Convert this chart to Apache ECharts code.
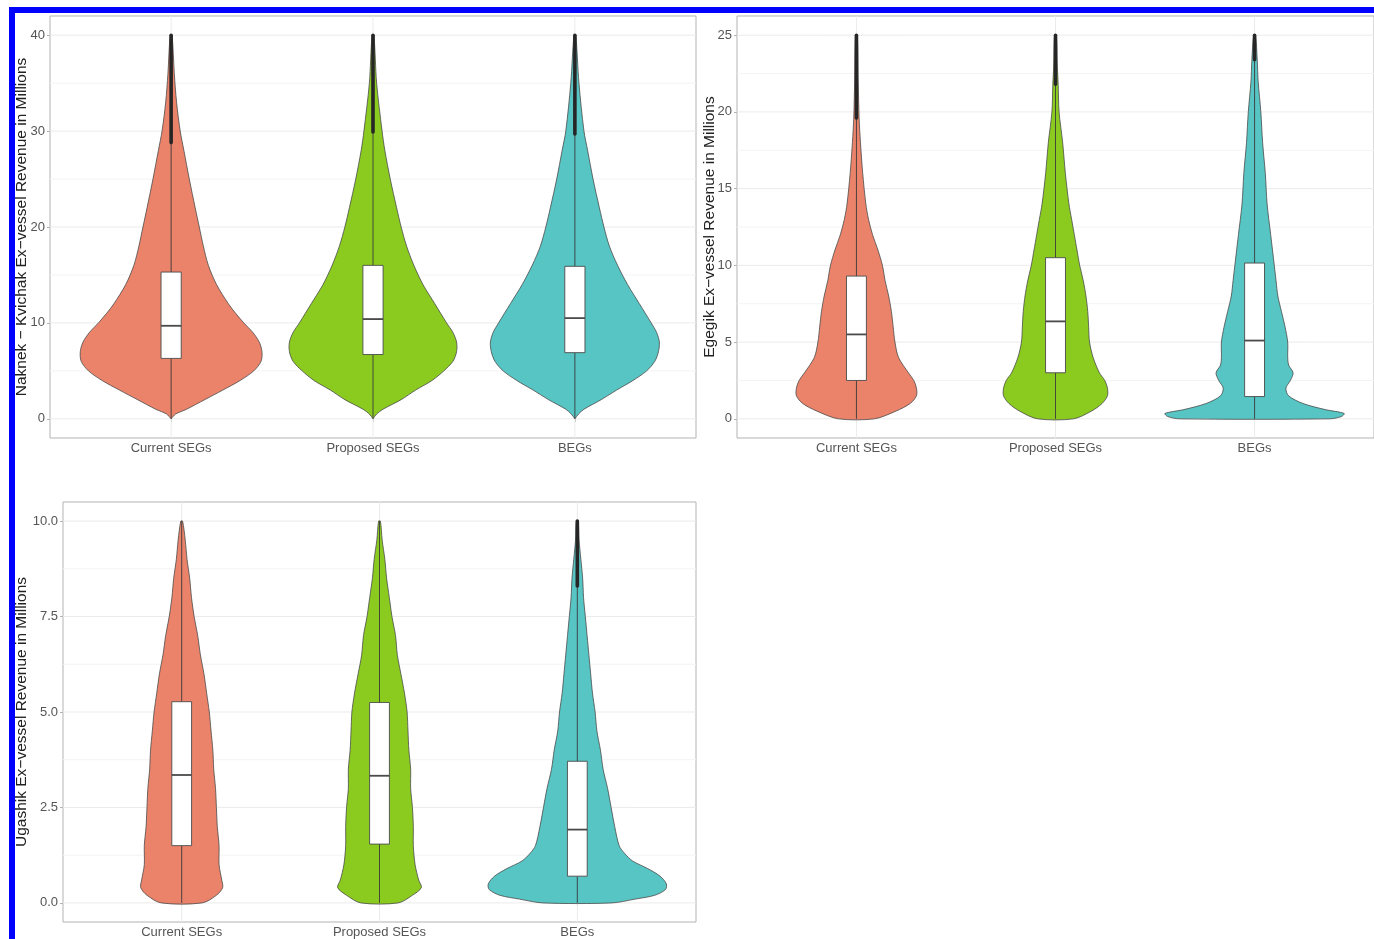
<!DOCTYPE html>
<html>
<head>
<meta charset="utf-8">
<script src="https://cdn.jsdelivr.net/npm/echarts@6/dist/echarts.min.js"></script>
<style>
  html, body { margin: 0; padding: 0; background: #ffffff; }
  #chart { width: 1374px; height: 939px; }
</style>
</head>
<body>
<div id="chart"></div>
<script>
// ---- groups shown on every panel ----
const categories = ['Current SEGs', 'Proposed SEGs', 'BEGs'];
const fillColors = ['#EB836A', '#8BCB1F', '#56C5C3'];

// ---- Naknek - Kvichak (millions) ----
const nkTicks = [0, 10, 20, 30, 40];
// violin outlines: revenue levels and scaled density (1 = widest violin on the panel)
const nkCurrentY = [0, 0.5, 1, 2, 3, 4, 5, 6, 7, 8, 9, 10, 11, 12, 14, 16, 18, 20, 22, 25, 28, 30, 33, 36, 40];
const nkCurrentW = [0, .05, .17, .37, .57, .76, .91, .99, 1, .97, .90, .80, .71, .63, .50, .41, .355, .31, .265, .20, .14, .10, .06, .035, .01];
const nkProposedY = [0, 0.5, 1, 2, 3, 4, 5, 6, 7, 8, 9, 10, 12, 14, 16, 18, 20, 22, 25, 28, 30, 35, 40];
const nkProposedW = [0, .04, .11, .31, .47, .65, .78, .88, .92, .92, .88, .81, .68, .55, .45, .37, .31, .26, .19, .13, .10, .04, .01];
const nkBegY = [0, 0.5, 1, 2, 3, 4, 5, 6, 7, 8, 9, 10, 12, 14, 16, 18, 20, 22, 25, 28, 30, 35, 40];
const nkBegW = [0, .04, .10, .29, .46, .64, .79, .88, .92, .93, .90, .84, .71, .58, .47, .38, .32, .27, .20, .14, .10, .045, .01];
// box statistics: [lower whisker, Q1, median, Q3, upper whisker, maximum]
const nkBoxes = [
  [0, 6.3, 9.7, 15.3, 28.8, 40],
  [0, 6.7, 10.4, 16.0, 29.9, 40],
  [0, 6.9, 10.5, 15.9, 29.7, 40]
];

// ---- Egegik (millions) ----
const egTicks = [0, 5, 10, 15, 20, 25];
const egCurrentY = [0, 0.5, 1, 1.5, 2, 2.5, 3, 4, 5, 6, 7, 8, 9, 10, 11, 12, 13, 14, 16, 18, 19.6, 22, 25];
const egCurrentW = [.20, .44, .60, .67, .67, .64, .58, .47, .43, .41, .39, .36, .32, .29, .24, .18, .135, .105, .07, .045, .03, .02, .01];
const egProposedY = [0, 0.5, 1, 1.5, 2, 2.5, 3, 4, 5, 6, 7, 8, 9, 10, 11, 12, 13, 14, 16, 18, 20, 21.8, 23, 25];
const egProposedW = [.20, .40, .52, .58, .58, .55, .49, .42, .38, .37, .36, .34, .31, .27, .24, .21, .18, .15, .11, .08, .04, .03, .02, .01];
const egBegY = [0, 0.15, 0.35, 0.6, 1, 1.5, 2, 2.5, 3, 3.5, 4, 5, 6, 7, 8, 9, 10, 12, 14, 16, 18, 20, 22, 23.4, 25];
const egBegW = [.84, .97, 1, .79, .54, .38, .35, .40, .43, .38, .37, .37, .34, .30, .26, .24, .22, .18, .14, .12, .09, .07, .04, .03, .01];
const egBoxes = [
  [0, 2.5, 5.5, 9.3, 19.6, 25],
  [0, 3.0, 6.35, 10.5, 21.8, 25],
  [0, 1.45, 5.1, 10.15, 23.4, 25]
];

// ---- Ugashik (millions) ----
const ugTicks = [0, 2.5, 5, 7.5, 10];
const ugCurrentY = [0, 0.2, 0.4, 0.6, 1, 1.5, 2, 2.5, 3, 3.5, 4, 4.5, 5, 5.5, 6, 6.5, 7, 7.5, 8, 8.5, 9, 9.5, 10];
const ugCurrentW = [.23, .39, .46, .45, .42, .42, .40, .39, .38, .36, .35, .33, .31, .28, .25, .21, .18, .14, .11, .09, .06, .04, .01];
const ugProposedY = [0, 0.2, 0.4, 0.6, 1, 1.5, 2, 2.5, 3, 3.5, 4, 4.5, 5, 5.5, 6, 6.5, 7, 7.5, 8, 8.5, 9, 9.5, 10];
const ugProposedW = [.21, .37, .47, .44, .40, .38, .38, .37, .35, .35, .33, .32, .31, .28, .24, .20, .18, .14, .11, .08, .06, .03, .01];
const ugBegY = [0, 0.1, 0.2, 0.35, 0.5, 0.7, 0.9, 1.1, 1.3, 1.5, 2, 2.5, 3, 3.5, 4, 4.5, 5, 5.5, 6, 6.5, 7, 7.5, 8, 8.5, 9, 9.5, 10];
const ugBegW = [.39, .65, .87, .99, 1, .93, .79, .62, .53, .47, .42, .38, .34, .29, .26, .22, .20, .17, .15, .13, .11, .09, .07, .06, .04, .02, .01];
const ugBoxes = [
  [0, 1.5, 3.35, 5.27, 10, 10],
  [0, 1.54, 3.33, 5.25, 10, 10],
  [0, 0.7, 1.92, 3.71, 8.3, 10]
];

// ---- panels ----
const panels = [
  {
    title: 'Naknek \u2212 Kvichak Ex\u2212vessel Revenue in Millions',
    grid: { left: 50, top: 16, width: 646, height: 422 },
    yMin: -2, yMax: 42, ticks: nkTicks, decimals: 0, nameGap: 20,
    profiles: [{ y: nkCurrentY, w: nkCurrentW }, { y: nkProposedY, w: nkProposedW }, { y: nkBegY, w: nkBegW }],
    boxes: nkBoxes
  },
  {
    title: 'Egegik Ex\u2212vessel Revenue in Millions',
    grid: { left: 737, top: 16, width: 646, height: 422 },
    yMin: -1.25, yMax: 26.25, ticks: egTicks, decimals: 0, nameGap: 19,
    profiles: [{ y: egCurrentY, w: egCurrentW }, { y: egProposedY, w: egProposedW }, { y: egBegY, w: egBegW }],
    boxes: egBoxes
  },
  {
    title: 'Ugashik Ex\u2212vessel Revenue in Millions',
    grid: { left: 63, top: 502, width: 633, height: 423 },
    yMin: -0.5, yMax: 10.5, ticks: ugTicks, decimals: 1, nameGap: 33,
    profiles: [{ y: ugCurrentY, w: ugCurrentW }, { y: ugProposedY, w: ugProposedW }, { y: ugBegY, w: ugBegW }],
    boxes: ugBoxes
  }
];

const FONT = '"Liberation Sans", Arial, Helvetica, sans-serif';
const VIOLIN_HALF = 0.45;   // half of the widest violin, in category units
const BOX_HALF = 0.05;      // half of the box width, in category units
const catValues = categories.map((_, i) => i + 1);

// light panel grid: major and minor horizontal lines, one vertical line per group
function gridLinesItem(panel) {
  const minor = [];
  for (let k = 0; k + 1 < panel.ticks.length; k++) minor.push((panel.ticks[k] + panel.ticks[k + 1]) / 2);
  return function (params, api) {
    const cs = params.coordSys;
    const children = [];
    minor.forEach(v => {
      const y = api.coord([1, v])[1];
      children.push({ type: 'line', shape: { x1: cs.x, y1: y, x2: cs.x + cs.width, y2: y },
        style: { stroke: '#F4F4F4', lineWidth: 1 } });
    });
    panel.ticks.forEach(v => {
      const y = api.coord([1, v])[1];
      children.push({ type: 'line', shape: { x1: cs.x, y1: y, x2: cs.x + cs.width, y2: y },
        style: { stroke: '#EBEBEB', lineWidth: 1 } });
    });
    catValues.forEach(c => {
      const x = api.coord([c, 0])[0];
      children.push({ type: 'line', shape: { x1: x, y1: cs.y, x2: x, y2: cs.y + cs.height },
        style: { stroke: '#EBEBEB', lineWidth: 1 } });
    });
    return { type: 'group', children };
  };
}

// one violin with its box plot drawn on top
function violinItem(panel) {
  return function (params, api) {
    const i = params.dataIndex;
    const cat = api.value(0);
    const prof = panel.profiles[i];
    const st = panel.boxes[i];
    const pt = (x, v) => api.coord([x, v]);
    const right = prof.y.map((v, k) => pt(cat + VIOLIN_HALF * prof.w[k], v));
    const left = prof.y.map((v, k) => pt(cat - VIOLIN_HALF * prof.w[k], v)).reverse();
    const children = [];
    children.push({
      type: 'polygon',
      shape: { points: right.concat(left), smooth: 0.3 },
      style: { fill: fillColors[i], stroke: '#4A4A4A', lineWidth: 0.8 }
    });
    const lo = pt(cat, st[0]), q1 = pt(cat, st[1]), med = pt(cat, st[2]), q3 = pt(cat, st[3]), hi = pt(cat, st[4]), mx = pt(cat, st[5]);
    children.push({ type: 'line', shape: { x1: lo[0], y1: lo[1], x2: q1[0], y2: q1[1] }, style: { stroke: '#3A3A3A', lineWidth: 0.9 } });
    children.push({ type: 'line', shape: { x1: q3[0], y1: q3[1], x2: hi[0], y2: hi[1] }, style: { stroke: '#3A3A3A', lineWidth: 0.9 } });
    if (st[5] > st[4]) {
      children.push({ type: 'line', shape: { x1: hi[0], y1: hi[1], x2: mx[0], y2: mx[1] },
        style: { stroke: '#262626', lineWidth: 3.6, lineCap: 'round' } });
    }
    const bl = pt(cat - BOX_HALF, st[3]);
    const br = pt(cat + BOX_HALF, st[1]);
    children.push({ type: 'rect', shape: { x: bl[0], y: bl[1], width: br[0] - bl[0], height: br[1] - bl[1] },
      style: { fill: '#FFFFFF', stroke: '#4A4A4A', lineWidth: 0.9 } });
    children.push({ type: 'line', shape: { x1: bl[0], y1: med[1], x2: br[0], y2: med[1] },
      style: { stroke: '#4A4A4A', lineWidth: 1.8 } });
    return { type: 'group', children };
  };
}

const option = {
  animation: false,
  backgroundColor: '#FFFFFF',
  textStyle: { fontFamily: FONT },
  graphic: [
    { type: 'rect', shape: { x: 9, y: 7, width: 1365, height: 6 }, style: { fill: '#0000FF' }, z: 100 },
    { type: 'rect', shape: { x: 9, y: 7, width: 6, height: 932 }, style: { fill: '#0000FF' }, z: 100 }
  ],
  grid: panels.map(p => Object.assign({ show: true, borderColor: '#B3B3B3', borderWidth: 1, backgroundColor: '#FFFFFF', containLabel: false }, p.grid)),
  xAxis: panels.map((p, gi) => ({
    type: 'value', gridIndex: gi, min: 0.4, max: 3.6,
    axisLine: { show: false },
    splitLine: { show: false },
    axisTick: { show: true, length: 3, customValues: catValues, lineStyle: { color: '#B3B3B3' } },
    axisLabel: { customValues: catValues, margin: 4, color: '#555555', fontSize: 13, fontFamily: FONT,
      formatter: v => categories[Math.round(v) - 1] || '' }
  })),
  yAxis: panels.map((p, gi) => ({
    type: 'value', gridIndex: gi, min: p.yMin, max: p.yMax,
    name: p.title, nameLocation: 'middle', nameRotate: 90, nameGap: p.nameGap, nameMoveOverlap: false,
    nameTextStyle: { color: '#222222', fontSize: 15.5, fontFamily: FONT },
    axisLine: { show: false },
    splitLine: { show: false },
    axisTick: { show: true, length: 3, customValues: p.ticks, lineStyle: { color: '#B3B3B3' } },
    axisLabel: { customValues: p.ticks, margin: 5, color: '#555555', fontSize: 13, fontFamily: FONT,
      formatter: v => Number(v).toFixed(p.decimals) }
  })),
  series: [].concat(...panels.map((p, gi) => [
    { type: 'custom', xAxisIndex: gi, yAxisIndex: gi, silent: true, z: 1,
      renderItem: gridLinesItem(p), data: [[1, 0]] },
    { type: 'custom', xAxisIndex: gi, yAxisIndex: gi, silent: true, z: 2,
      renderItem: violinItem(p), data: catValues.map(c => [c, 0]) }
  ]))
};

const chart = echarts.init(document.getElementById('chart'), null, { renderer: 'canvas' });
chart.setOption(option);
</script>
</body>
</html>
